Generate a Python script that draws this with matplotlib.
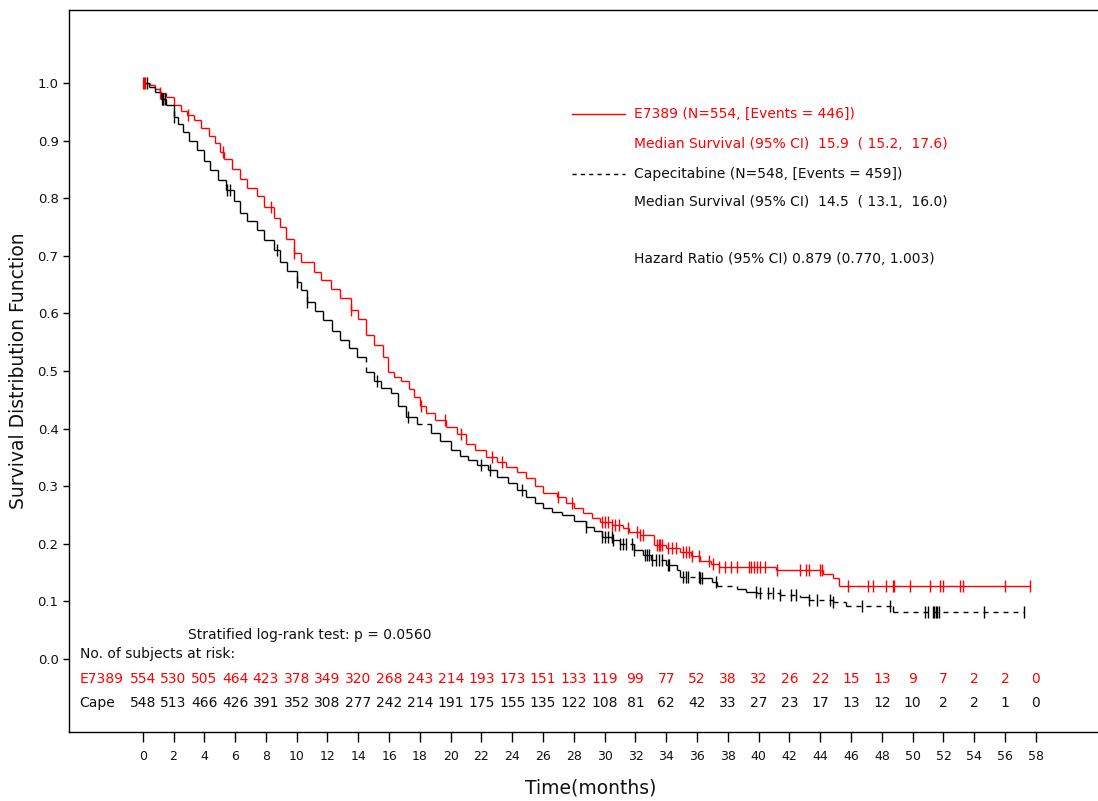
import numpy as np
import matplotlib
matplotlib.use("Agg")
import matplotlib.pyplot as plt
from matplotlib.collections import LineCollection

plt.rcParams['font.family'] = ['DejaVu Sans']

# Kaplan-Meier step points (time in months, survival after the step)
e7389_t = [0.0, 0.5, 0.8, 1.1, 1.5, 2.0, 2.5, 2.9, 3.3, 3.8, 4.3, 4.7, 5.0, 5.3, 5.8,
           6.3, 6.8, 7.4, 7.9, 8.5, 8.9, 9.3, 9.8, 10.3, 11.1, 11.6, 12.2, 12.8, 13.5,
           14.0, 14.5, 15.0, 15.6, 15.9, 16.3, 16.8, 17.3, 17.6, 18.0, 18.4, 19.0, 19.7,
           20.4, 21.0, 21.6, 22.3, 23.0, 23.6, 24.3, 24.9, 25.5, 26.0, 26.9, 27.5, 28.0,
           28.6, 29.2, 29.7, 30.5, 31.2, 31.6, 32.3, 33.2, 34.0, 34.9, 35.6, 36.2, 36.9,
           37.4, 41.1, 44.2, 44.8, 45.2]
e7389_s = [1.000, 0.997, 0.990, 0.982, 0.975, 0.962, 0.952, 0.944, 0.935, 0.922, 0.908,
           0.895, 0.880, 0.868, 0.850, 0.833, 0.818, 0.803, 0.785, 0.765, 0.750, 0.730,
           0.704, 0.690, 0.672, 0.658, 0.643, 0.627, 0.606, 0.590, 0.562, 0.545, 0.525,
           0.498, 0.490, 0.482, 0.468, 0.455, 0.440, 0.427, 0.415, 0.403, 0.390, 0.374,
           0.363, 0.351, 0.342, 0.334, 0.325, 0.314, 0.300, 0.288, 0.282, 0.270, 0.262,
           0.253, 0.245, 0.237, 0.232, 0.228, 0.221, 0.215, 0.198, 0.192, 0.186, 0.178,
           0.171, 0.165, 0.159, 0.155, 0.148, 0.140, 0.126]
e7389_end = 57.6

cape_t = [0.0, 0.4, 0.8, 1.2, 1.5, 2.0, 2.3, 2.6, 3.0, 3.5, 4.0, 4.4, 4.9, 5.4, 5.9, 6.3,
          6.8, 7.4, 7.9, 8.5, 8.9, 9.4, 10.0, 10.3, 10.65, 11.2, 11.7, 12.3, 12.8, 13.4,
          13.9, 14.5, 15.0, 15.5, 16.1, 16.6, 17.1, 17.8, 18.7, 19.3, 20.0, 20.6, 21.1,
          21.7, 22.4, 23.0, 23.7, 24.3, 24.9, 25.5, 26.0, 26.6, 27.2, 28.0, 28.8, 29.3,
          29.8, 30.5, 31.0, 31.9, 32.5, 33.0, 34.0, 34.7, 34.9, 36.2, 37.0, 37.3, 38.6,
          39.2, 39.9, 41.4, 42.7, 43.3, 44.85, 45.7, 48.7]
cape_s = [1.000, 0.993, 0.985, 0.972, 0.962, 0.941, 0.928, 0.915, 0.900, 0.884, 0.865,
          0.849, 0.832, 0.814, 0.795, 0.774, 0.760, 0.745, 0.728, 0.710, 0.690, 0.674,
          0.655, 0.640, 0.620, 0.604, 0.589, 0.570, 0.554, 0.540, 0.525, 0.498, 0.482,
          0.470, 0.461, 0.440, 0.421, 0.408, 0.392, 0.378, 0.363, 0.352, 0.345, 0.336,
          0.328, 0.316, 0.305, 0.293, 0.282, 0.271, 0.262, 0.255, 0.250, 0.240, 0.230,
          0.222, 0.212, 0.206, 0.200, 0.189, 0.180, 0.172, 0.163, 0.155, 0.143, 0.140,
          0.134, 0.127, 0.121, 0.117, 0.114, 0.111, 0.108, 0.102, 0.0995, 0.092, 0.082]
cape_end = 57.2

# Censoring times
e7389_cens = [0.0, 0.08, 0.15, 1.1, 2.95, 5.2, 8.3, 9.8, 13.5, 18.1, 19.6, 20.7, 22.7,
              23.3, 27.0, 27.9, 29.8, 30.0, 30.2, 30.5, 30.7, 30.9, 31.5, 32.1, 32.3,
              32.5, 33.4, 33.5, 33.6, 33.7, 34.1, 34.4, 34.6, 35.1, 35.3, 35.5, 35.7,
              36.1, 36.8, 37.05, 37.4, 37.8, 38.2, 38.6, 39.4, 39.5, 39.7, 39.9, 40.1,
              40.4, 41.2, 42.7, 43.1, 43.3, 44.0, 44.1, 45.8, 47.1, 47.4, 48.3, 48.7,
              48.8, 49.8, 51.1, 51.8, 52.0, 53.1, 53.3, 56.0, 57.6]
cape_cens = [0.26, 1.25, 1.3, 1.35, 1.45, 2.0, 5.45, 5.67, 8.7, 10.0, 10.65, 15.2, 17.25,
             22.0, 22.55, 24.6, 28.8, 29.8, 30.0, 30.2, 30.45, 30.55, 31.0, 31.2, 31.4,
             31.75, 31.9, 32.6, 32.75, 32.9, 33.1, 33.3, 33.5, 33.7, 34.1, 34.2, 35.1,
             35.3, 35.4, 36.1, 36.2, 36.3, 37.2, 39.8, 40.1, 40.6, 40.95, 41.4, 42.1,
             42.4, 43.3, 43.8, 44.6, 44.85, 46.7, 48.5, 50.8, 51.0, 51.3, 51.4, 51.5,
             51.6, 51.7, 54.6, 57.2]

# Numbers at risk every 2 months
risk_times = list(range(0, 60, 2))
e7389_risk = [554, 530, 505, 464, 423, 378, 349, 320, 268, 243, 214, 193, 173, 151, 133,
              119, 99, 77, 52, 38, 32, 26, 22, 15, 13, 9, 7, 2, 2, 0]
cape_risk = [548, 513, 466, 426, 391, 352, 308, 277, 242, 214, 191, 175, 155, 135, 122,
             108, 81, 62, 42, 33, 27, 23, 17, 13, 12, 10, 2, 2, 1, 0]

RED = '#ff0000'
TXT = '#111111'

fig = plt.figure(figsize=(10.98, 8.01), dpi=100)
ax = fig.add_axes([69 / 1098, 1 - 732 / 801, (1097 - 69) / 1098, (732 - 10) / 801])
ax.set_xlim(-4.786, 61.97)
ax.set_ylim(-0.1267, 1.1267)


def step_segments(t, s, t_end):
    segs = []
    n = len(t)
    for i in range(n):
        x1 = t[i + 1] if i + 1 < n else t_end
        segs.append([(t[i], s[i]), (x1, s[i])])
        if i + 1 < n:
            segs.append([(x1, s[i]), (x1, s[i + 1])])
    return segs


def surv_at(t, s, x):
    idx = np.searchsorted(np.asarray(t), np.asarray(x), side='right') - 1
    return np.asarray(s)[np.clip(idx, 0, len(s) - 1)]


# E7389: solid red step curve
ax.add_collection(LineCollection(step_segments(e7389_t, e7389_s, e7389_end),
                                 colors=RED, linewidths=1.0))

# Capecitabine: dashed black, short steps render solid
segs = step_segments(cape_t, cape_s, cape_end)
fig.canvas.draw()
trans = ax.transData
short, long_ = [], []
for sg in segs:
    p = trans.transform(np.array(sg))
    if np.hypot(*(p[1] - p[0])) < 13:
        short.append(sg)
    else:
        long_.append(sg)
ax.add_collection(LineCollection(short, colors='black', linewidths=1.0))
ax.add_collection(LineCollection(long_, colors='black', linewidths=1.0,
                                 linestyles=[(0, (3.6, 3.6))]))

# Censoring marks
ax.plot(e7389_cens, surv_at(e7389_t, e7389_s, e7389_cens), linestyle='none',
        marker='|', color=RED, markersize=8, markeredgewidth=1.0)
ax.plot(cape_cens, surv_at(cape_t, cape_s, cape_cens), linestyle='none',
        marker='|', color='black', markersize=8, markeredgewidth=1.0)

# Legend block
fs = 10
dy = -0.0018
ax.plot([27.88, 31.32], [0.948 + dy, 0.948 + dy], color=RED, lw=1.0)
ax.plot([27.88, 31.32], [0.844 + dy, 0.844 + dy], color='black', lw=1.0,
        linestyle=(0, (3, 3)))
ax.text(31.9, 0.948 + dy, 'E7389 (N=554, [Events = 446])', color=RED, fontsize=fs,
        va='center')
ax.text(31.9, 0.896 + dy, 'Median Survival (95% CI)  15.9  ( 15.2,  17.6)', color=RED,
        fontsize=fs, va='center')
ax.text(31.9, 0.844 + dy, 'Capecitabine (N=548, [Events = 459])', color=TXT, fontsize=fs,
        va='center')
ax.text(31.9, 0.795 + dy, 'Median Survival (95% CI)  14.5  ( 13.1,  16.0)', color=TXT,
        fontsize=fs, va='center')
ax.text(31.9, 0.696 + dy, 'Hazard Ratio (95% CI) 0.879 (0.770, 1.003)', color=TXT,
        fontsize=fs, va='center')

# Test result and at-risk table
ax.text(2.95, 0.0434 + dy, 'Stratified log-rank test: p = 0.0560', color=TXT, fontsize=fs,
        va='center')
ax.text(-4.1, 0.0104 + dy, 'No. of subjects at risk:', color=TXT, fontsize=fs, va='center')
ax.text(-4.1, -0.033 + dy, 'E7389', color=RED, fontsize=fs, va='center')
ax.text(-4.1, -0.0747 + dy, 'Cape', color=TXT, fontsize=fs, va='center')
for x, a, b in zip(risk_times, e7389_risk, cape_risk):
    ax.text(x, -0.033 + dy, str(a), color=RED, fontsize=fs, va='center', ha='center')
    ax.text(x, -0.0747 + dy, str(b), color=TXT, fontsize=fs, va='center', ha='center')

# Axes styling
ax.spines['right'].set_visible(False)
for sp in ('left', 'bottom', 'top'):
    ax.spines[sp].set_linewidth(1.0)
ax.set_xticks(risk_times)
ax.set_xticklabels([str(v) for v in risk_times])
ax.set_yticks([i / 10 for i in range(11)])
ax.set_yticklabels([f'{i / 10:.1f}' for i in range(11)])
ax.tick_params(axis='x', length=7, width=1.0, pad=6, labelsize=9, labelcolor=TXT)
ax.tick_params(axis='y', length=4.5, width=1.0, pad=3, labelsize=9.5, labelcolor=TXT)
ax.set_xlabel('Time(months)', fontsize=13.5, color=TXT)
ax.set_ylabel('Survival Distribution Function', fontsize=13.5, color=TXT)
ax.xaxis.set_label_coords(0.507, -0.065)
ax.yaxis.set_label_coords(-0.040, 0.5)

fig.savefig('out.png', dpi=100)
